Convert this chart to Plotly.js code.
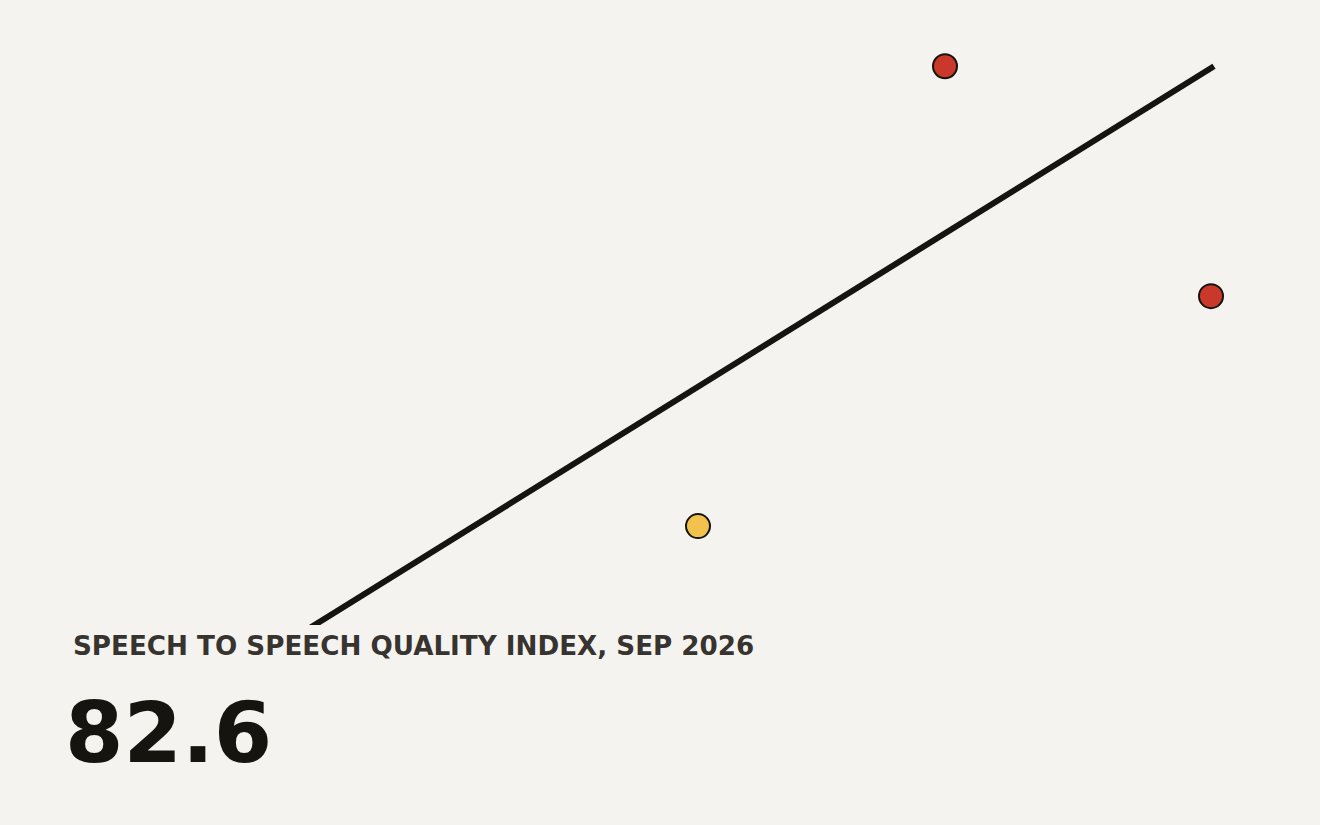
<!DOCTYPE html>
<html>
<head>
<meta charset="utf-8">
<script src="https://cdn.plot.ly/plotly-3.0.1.min.js"></script>
<style>
  html, body { margin: 0; padding: 0; background: #f4f3ef; }
  #chart { width: 1320px; height: 825px; }
</style>
</head>
<body>
<div id="chart"></div>
<script>
// trend line (month index vs quality index)
const trendX = [0, 121.4];
const trendY = [49.8, 82.6];

// model scores
const scoreX = [69.8, 94.5, 121.1];
const scoreY = [62.6, 82.6, 72.6];
const scoreColors = ['#f2c14e', '#c9382a', '#c9382a'];

const headline = '82.6';
const kicker = 'SPEECH TO SPEECH QUALITY INDEX, SEP 2026';

const trend = {
  x: trendX,
  y: trendY,
  type: 'scatter',
  mode: 'lines',
  line: { color: '#16140f', width: 6 },
  hoverinfo: 'skip',
  showlegend: false
};

const scores = {
  x: scoreX,
  y: scoreY,
  type: 'scatter',
  mode: 'markers',
  marker: { size: 24, color: scoreColors, line: { color: '#16140f', width: 2 } },
  cliponaxis: false,
  showlegend: false
};

const layout = {
  width: 1320,
  height: 825,
  margin: { l: 0, r: 0, t: 11, b: 200 },
  paper_bgcolor: '#f4f3ef',
  plot_bgcolor: '#f4f3ef',
  font: { family: 'DejaVu Sans', color: '#16140f' },
  showlegend: false,
  xaxis: {
    range: [0, 132],
    showgrid: false, zeroline: false, showticklabels: false, showline: false, ticks: ''
  },
  yaxis: {
    range: [58.3, 85.0],
    showgrid: false, zeroline: false, showticklabels: false, showline: false, ticks: ''
  },
  annotations: [
    {
      text: '<b>' + kicker + '</b>',
      xref: 'paper', yref: 'paper',
      x: 0, y: 0,
      xshift: 71, yshift: -4,
      xanchor: 'left', yanchor: 'top',
      showarrow: false,
      font: { family: 'DejaVu Sans', size: 26.2, color: '#37332e' }
    },
    {
      text: '<b>' + headline + '</b>',
      xref: 'paper', yref: 'paper',
      x: 0, y: 0,
      xshift: 63, yshift: -57,
      xanchor: 'left', yanchor: 'top',
      showarrow: false,
      font: { family: 'DejaVu Sans', size: 84, color: '#16140f' }
    }
  ]
};

Plotly.newPlot('chart', [trend, scores], layout, { displayModeBar: false, staticPlot: true });
</script>
</body>
</html>
